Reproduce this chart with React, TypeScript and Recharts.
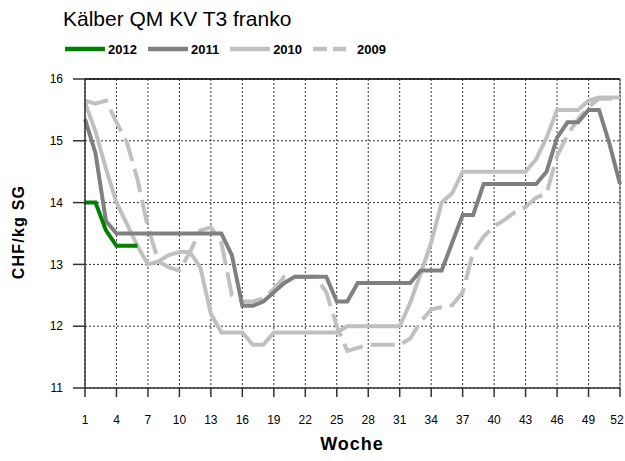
import React from 'react';
import { LineChart, Line, XAxis, YAxis, CartesianGrid, ReferenceLine } from 'recharts';

// Kalenderwochen
const weeks = [
  1, 2, 3, 4, 5, 6, 7, 8, 9, 10, 11, 12, 13, 14, 15, 16, 17, 18, 19, 20, 21, 22, 23, 24, 25, 26,
  27, 28, 29, 30, 31, 32, 33, 34, 35, 36, 37, 38, 39, 40, 41, 42, 43, 44, 45, 46, 47, 48, 49, 50, 51, 52,
];

// CHF/kg SG per week
const price2012 = [14.0, 14.0, 13.55, 13.3, 13.3, 13.3];

const price2011 = [
  15.35, 14.8, 13.7, 13.5, 13.5, 13.5, 13.5, 13.5, 13.5, 13.5, 13.5, 13.5, 13.5, 13.5,
  13.15, 12.33, 12.33, 12.4, 12.55, 12.7, 12.8, 12.8, 12.8, 12.8, 12.4, 12.4,
  12.7, 12.7, 12.7, 12.7, 12.7, 12.7, 12.9, 12.9, 12.9, 13.35, 13.8, 13.8,
  14.3, 14.3, 14.3, 14.3, 14.3, 14.3, 14.5, 15.05, 15.3, 15.3, 15.5, 15.5, 14.95, 14.3,
];

const price2010 = [
  15.62, 15.15, 14.55, 14.0, 13.65, 13.3, 13.0, 13.05, 13.15, 13.2, 13.2, 12.95, 12.2,
  11.9, 11.9, 11.9, 11.7, 11.7, 11.9, 11.9, 11.9, 11.9, 11.9, 11.9, 11.9,
  12.0, 12.0, 12.0, 12.0, 12.0, 12.0, 12.38, 12.85, 13.35, 14.0, 14.15,
  14.5, 14.5, 14.5, 14.5, 14.5, 14.5, 14.5, 14.7, 15.05, 15.5, 15.5, 15.5, 15.65, 15.7, 15.7, 15.7,
];

const price2009 = [
  15.65, 15.6, 15.65, 15.3, 14.97, 14.38, 13.6, 13.05, 12.95, 12.9, 13.2, 13.55, 13.6,
  13.35, 12.5, 12.4, 12.4, 12.45, 12.6, 12.8, 12.8, 12.8, 12.8, 12.55, 12.0, 11.6,
  11.65, 11.7, 11.7, 11.7, 11.7, 11.8, 12.07, 12.27, 12.31, 12.34, 12.55, 13.2, 13.45,
  13.62, 13.72, 13.85, 13.93, 14.08, 14.15, 14.75, 15.1, 15.35, 15.55, 15.68, 15.68, 15.68,
];

const xTicks = [1, 4, 7, 10, 13, 16, 19, 22, 25, 28, 31, 34, 37, 40, 43, 46, 49, 52];
const yTicks = [11, 12, 13, 14, 15, 16];

const data = weeks.map((w, i) => ({
  week: w,
  y2012: price2012[i] ?? null,
  y2011: price2011[i],
  y2010: price2010[i],
  y2009: price2009[i],
}));

const series = [
  { key: 'y2012', name: '2012', color: '#008000', dash: undefined as string | undefined },
  { key: 'y2011', name: '2011', color: '#808080', dash: undefined },
  { key: 'y2010', name: '2010', color: '#c0c0c0', dash: undefined },
  { key: 'y2009', name: '2009', color: '#c0c0c0', dash: '14 6' },
];

const font = '"Liberation Sans", Arial, sans-serif';

// keeps the last week label inside the picture
const WeekTick = (props: any) => {
  const { x, y, payload } = props;
  return (
    <text x={Math.min(x, 617)} y={y} dy="0.71em" textAnchor="middle" fontSize={12} fontFamily={font} fill="#000">
      {payload.value}
    </text>
  );
};

const App: React.FC = () => {
  return (
    <div style={{ position: 'absolute', left: 0, top: 0, width: 625, height: 461, background: '#fff', fontFamily: font }}>
      <div style={{ position: 'absolute', left: 63, top: 7, fontSize: 21, color: '#000', whiteSpace: 'nowrap' }}>
        Kälber QM KV T3 franko
      </div>

      {/* legend */}
      <div style={{ position: 'absolute', left: 65, top: 40, display: 'flex', alignItems: 'center', height: 18 }}>
        {series.map((s) => (
          <div key={s.key} style={{ display: 'flex', alignItems: 'center', marginRight: s.dash ? 0 : 11 }}>
            <svg width={s.dash ? 33 : 40} height={10} style={{ display: 'block' }}>
              <line x1={0} y1={5} x2={s.dash ? 33 : 40} y2={5} stroke={s.color} strokeWidth={4.5} strokeDasharray={s.dash} />
            </svg>
            <span style={{ fontSize: 13, fontWeight: 'bold', marginLeft: s.dash ? 11 : 3, color: '#000' }}>{s.name}</span>
          </div>
        ))}
      </div>

      <LineChart
        width={625}
        height={461}
        data={data}
        margin={{ top: 79, right: 5, bottom: 33, left: 25 }}
        style={{ position: 'absolute', left: 0, top: 0 }}
      >
        <CartesianGrid stroke="#333" strokeWidth={1} strokeDasharray="2 2" />
        <XAxis
          dataKey="week"
          type="number"
          domain={[1, 52]}
          ticks={xTicks}
          interval={0}
          height={40}
          tickSize={9}
          tickMargin={18}
          axisLine={{ stroke: '#333', strokeWidth: 1.5 }}
          tickLine={{ stroke: '#333', strokeWidth: 1.5 }}
          tick={<WeekTick />}
        />
        <YAxis
          type="number"
          domain={[11, 16]}
          ticks={yTicks}
          interval={0}
          width={60}
          tickSize={12}
          tickMargin={10}
          axisLine={{ stroke: '#333', strokeWidth: 1.5 }}
          tickLine={{ stroke: '#333', strokeWidth: 1.5 }}
          tick={{ fill: '#000', fontSize: 12, fontFamily: font }}
        />
        <ReferenceLine y={16} stroke="#000" strokeWidth={1.5} />
        <ReferenceLine x={52} stroke="#555" strokeWidth={1} />
        {[...series].reverse().map((s) => (
          <Line
            key={s.key}
            type="linear"
            dataKey={s.key}
            stroke={s.color}
            strokeWidth={4}
            strokeDasharray={s.dash ? '24 8' : undefined}
            dot={false}
            activeDot={false}
            connectNulls={false}
            isAnimationActive={false}
          />
        ))}
      </LineChart>

      <div
        style={{
          position: 'absolute',
          left: 19,
          top: 232,
          transform: 'translate(-50%, -50%) rotate(-90deg)',
          fontSize: 16,
          fontWeight: 'bold',
          letterSpacing: 1.2,
          whiteSpace: 'nowrap',
          color: '#000',
        }}
      >
        CHF/kg SG
      </div>
      <div
        style={{
          position: 'absolute',
          left: 352,
          top: 444,
          transform: 'translate(-50%, -50%)',
          fontSize: 18,
          fontWeight: 'bold',
          letterSpacing: 1,
          whiteSpace: 'nowrap',
          color: '#000',
        }}
      >
        Woche
      </div>
    </div>
  );
};

export default App;
